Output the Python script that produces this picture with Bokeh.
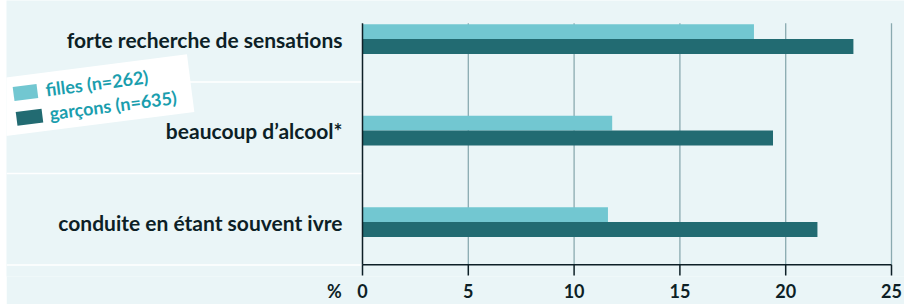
import math
from bokeh.plotting import figure
from bokeh.models import Range1d, FixedTicker
from bokeh.core.properties import value
from bokeh.embed import file_html
from bokeh.resources import INLINE

# ---- data ----
categories = ["conduite en étant souvent ivre", "beaucoup d’alcool*", "forte recherche de sensations"]
filles = [11.6, 11.8, 18.5]
garcons = [21.5, 19.4, 23.2]
series_labels = ["filles (n=262)", "garçons (n=635)"]
ticks = [0, 5, 10, 15, 20, 25]
axis_unit = "%"

# ---- styles ----
BG = "#eaf5f7"
LIGHT = "#72c7d1"
DARK = "#226b72"
GRID = "#8aaab0"
INK = "#0d1f26"
LEG_TXT = "#1a9eae"
FONT = value("Lato")

# pixel helpers (page coords -> data) for decorative placement
PX0, PXU = 362.0, 21.16
PY0, PYU = 224.0, 92.5
def dx(px):
    return (px - PX0) / PXU
def dy(py):
    return (PY0 - py) / PYU

x_start, x_end = dx(6), dx(904)
y_start, y_end = dy(279), dy(0)
y_axis = dy(267)
y_tick_end = dy(278)
unit_x = dx(334)

p = figure(width=898, height=304, output_backend="svg", toolbar_location=None,
           x_range=Range1d(x_start, x_end), y_range=Range1d(y_start, y_end),
           y_axis_location=None, min_border_left=0, min_border_right=0,
           min_border_top=0, min_border_bottom=25)
p.styles = {"margin-left": "6px"}
p.background_fill_color = BG
p.border_fill_color = BG
p.outline_line_color = None
p.xgrid.visible = False
p.ygrid.visible = False

idx = list(range(len(categories)))
bar_h = 15 / PYU
top = idx[-1] + bar_h + 0.01

# gridlines
gx = [t for t in ticks if t > 0]
p.segment(x0=gx, y0=[top] * len(gx), x1=gx, y1=[y_axis] * len(gx),
          line_color=GRID, line_width=1.3)

# white separators on label side
sep = [i - 0.468 for i in idx]
p.segment(x0=[x_start] * len(sep), y0=sep, x1=[0] * len(sep), y1=sep,
          line_color="white", line_width=1.5)

# bars
p.hbar(y=[i + bar_h / 2 for i in idx], left=0, right=filles, height=bar_h,
       fill_color=LIGHT, line_color=None)
p.hbar(y=[i - bar_h / 2 for i in idx], left=0, right=garcons, height=bar_h,
       fill_color=DARK, line_color=None)

# axis lines and tick marks
p.segment(x0=[0], y0=[top], x1=[0], y1=[y_axis], line_color=INK, line_width=1.5)
p.segment(x0=[ticks[0]], y0=[y_axis], x1=[ticks[-1]], y1=[y_axis], line_color=INK, line_width=1.5)
p.segment(x0=ticks, y0=[y_axis] * len(ticks), x1=ticks, y1=[y_tick_end] * len(ticks),
          line_color=INK, line_width=1.5)

# category labels
p.text(x=[0] * len(idx), y=idx, text=categories, x_offset=-20, y_offset=0,
       text_align="right", text_baseline="middle", text_font=FONT,
       text_font_style="bold", text_font_size="21px", text_color=INK)

# x axis: tick labels (+ unit label at the left)
ax = p.xaxis[0]
ax.ticker = FixedTicker(ticks=[unit_x] + ticks)
ax.major_label_overrides = {unit_x: axis_unit}
ax.axis_line_color = None
ax.major_tick_line_color = None
ax.major_tick_in = 0
ax.major_tick_out = 0
ax.minor_tick_line_color = None
ax.major_label_standoff = 3
ax.major_label_text_font = "Lato"
ax.major_label_text_font_style = "bold"
ax.major_label_text_font_size = "18px"
ax.major_label_text_color = INK

# rotated legend card
ang = math.radians(7.3)
p.rect(x=[dx(86)], y=[dy(97)], width=210, height=58, width_units="screen",
       height_units="screen", angle=ang, fill_color="white", line_color=None)
p.rect(x=[dx(25), dx(29)], y=[dy(93), dy(118)], width=[24, 26], height=14,
       width_units="screen", height_units="screen", angle=ang,
       fill_color=[LIGHT, DARK], line_color=None)
p.text(x=[dx(45), dx(49)], y=[dy(90), dy(114)], text=series_labels, angle=ang,
       text_align="left", text_baseline="middle", text_font=FONT,
       text_font_style="bold", text_font_size="18px", text_color=LEG_TXT)

open("out.html", "w").write(file_html(p, INLINE))
